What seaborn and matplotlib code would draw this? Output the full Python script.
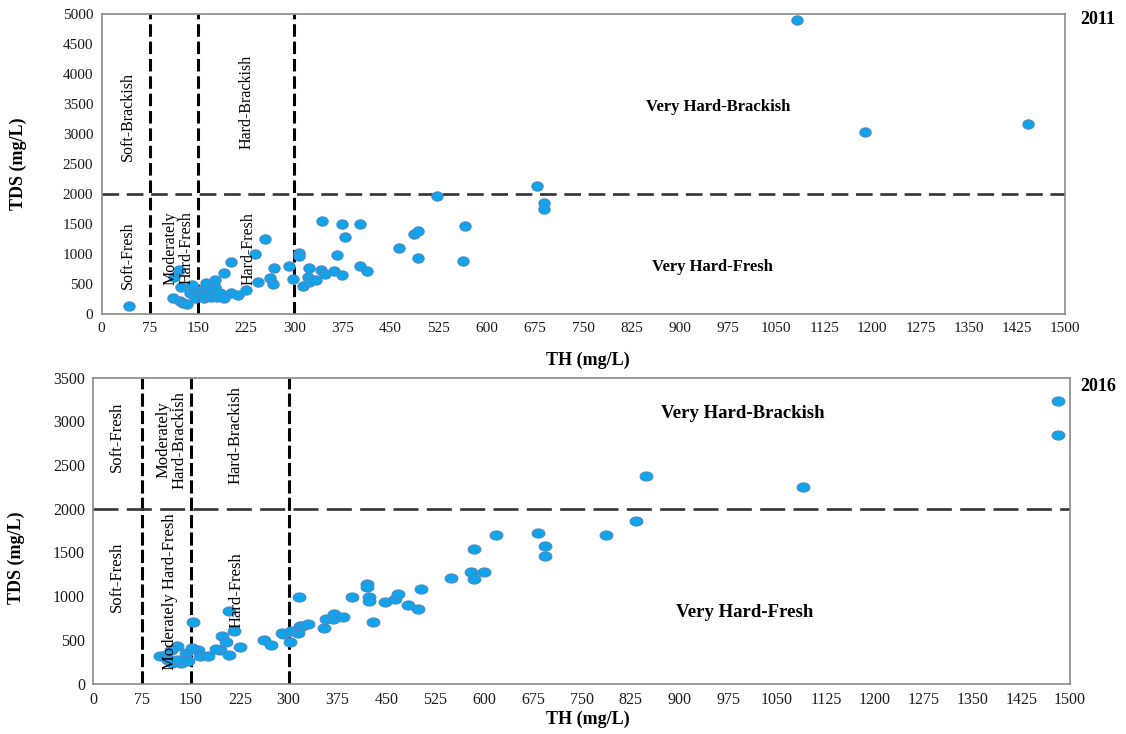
import numpy as np
import pandas as pd
import matplotlib
matplotlib.use("Agg")
import matplotlib.pyplot as plt
from matplotlib.path import Path
import seaborn as sns

# ---------------- data ----------------
th_2011 = [42, 111, 112, 121, 122, 124, 127, 133, 137, 140, 146, 153, 155, 160, 163, 163,
           170, 171, 176, 176, 179, 184, 191, 191, 202, 202, 213, 224, 238, 243, 254, 262,
           267, 268, 292, 298, 308, 308, 314, 322, 323, 323, 333, 343, 342, 347, 362, 367,
           374, 379, 374, 403, 403, 413, 463, 487, 493, 493, 522, 565, 563, 678, 688, 688,
           1083, 1188, 1443]
tds_2011 = [133, 262, 617, 733, 222, 450, 180, 167, 350, 483, 267, 400, 330, 267, 512, 317,
            420, 278, 450, 567, 290, 350, 678, 262, 867, 350, 317, 400, 1000, 540, 1250, 595,
            500, 765, 800, 590, 1022, 970, 467, 622, 762, 538, 567, 1555, 733, 662, 717, 983,
            1495, 1278, 650, 1495, 800, 717, 1095, 1333, 1388, 928, 1967, 1467, 883, 2139, 1845, 1750,
            4900, 3033, 3167]

th_2016 = [103, 111, 114, 121, 129, 119, 134, 142, 142, 146, 153, 160, 152, 164, 176, 195,
           188, 198, 203, 208, 209, 216, 225, 129, 262, 273, 291, 302, 290, 303, 314, 316,
           318, 321, 329, 354, 358, 368, 369, 384, 398, 420, 420, 424, 424, 429, 448, 464,
           468, 483, 498, 503, 549, 580, 585, 585, 600, 618, 683, 694, 694, 788, 834, 849,
           1090, 1481, 1481]
tds_2016 = [320, 331, 274, 236, 427, 389, 236, 350, 274, 255, 705, 389, 408, 312, 312, 389,
            397, 541, 476, 331, 834, 598, 415, 274, 503, 446, 571, 475, 579, 598, 579, 986,
            655, 655, 682, 636, 743, 743, 800, 762, 987, 1143, 1105, 987, 950, 701, 930, 971,
            1029, 903, 853, 1082, 1211, 1277, 1196, 1543, 1277, 1695, 1722, 1569, 1455, 1695, 1863, 2377,
            2251, 3234, 2846]

df11 = pd.DataFrame({"TH": th_2011, "TDS": tds_2011})
df16 = pd.DataFrame({"TH": th_2016, "TDS": tds_2016})

x_ticks = list(range(0, 1501, 75))
y_ticks_2011 = list(range(0, 5001, 500))
y_ticks_2016 = list(range(0, 3501, 500))
th_limits = [75, 150, 300]
tds_limit = 2000

# ---------------- style ----------------
sns.set_style("white")
plt.rcParams["font.family"] = ["Liberation Serif", "DejaVu Serif"]
plt.rcParams["lines.scale_dashes"] = False
plt.rcParams["text.color"] = "black"
plt.rcParams["axes.labelcolor"] = "black"

fill = "#10A4EA"
edge = "#4A88C8"

def ellipse(ratio):
    t = np.linspace(0, 2 * np.pi, 60)
    v = np.c_[ratio * np.cos(t), np.sin(t)]
    return Path(v, closed=True)

fig = plt.figure(figsize=(11.26, 7.34), dpi=100)
ax1 = fig.add_axes([0.0903, 0.5722, 0.8555, 0.4087])
ax2 = fig.add_axes([0.0829, 0.0688, 0.8674, 0.4166])

sns.scatterplot(data=df11, x="TH", y="TDS", ax=ax1, marker=ellipse(1.22), s=66,
                color=fill, edgecolor=edge, linewidth=0.8, zorder=3)
sns.scatterplot(data=df16, x="TH", y="TDS", ax=ax2, marker=ellipse(1.4), s=84,
                color=fill, edgecolor=edge, linewidth=0.8, zorder=3)

for ax, ymax, yt, tfs in [(ax1, 5000, y_ticks_2011, 11), (ax2, 3500, y_ticks_2016, 11.5)]:
    ax.set_xlim(0, 1500)
    ax.set_ylim(0, ymax)
    ax.set_xticks(x_ticks)
    ax.set_yticks(yt)
    ax.tick_params(direction="in", length=4, width=0.8, color="#555555",
                   labelsize=tfs, labelcolor="#1a1a1a", pad=6)
    for sp in ax.spines.values():
        sp.set_visible(True)
        sp.set_color("#8a8a8a")
        sp.set_linewidth(1.2)
    ax.set_xlabel("TH (mg/L)", fontsize=13, fontweight="bold", color="black")
    ax.set_ylabel("TDS (mg/L)", fontsize=13, fontweight="bold", color="black")

ax1.xaxis.set_label_coords(0.505, -0.125)
ax1.yaxis.set_label_coords(-0.078, 0.5)
ax2.xaxis.set_label_coords(0.506, -0.09)
ax2.yaxis.set_label_coords(-0.07, 0.41)

# dashed class boundaries
for xv in th_limits:
    ax1.axvline(xv, color="black", lw=2.2, dashes=(9, 3.5), zorder=2)
    ax2.axvline(xv, color="black", lw=2.2, dashes=(9.5, 3), zorder=2)
ax1.axhline(tds_limit, color="#333333", lw=1.9, dashes=(12, 5.5), zorder=2)
ax2.axhline(tds_limit, color="#333333", lw=1.9, dashes=(18, 6), zorder=2)

# region labels - 2011
vk = dict(rotation=90, ha="center", va="center", fontsize=11.5, multialignment="center",
          color="black")
ax1.text(41, 3300, "Soft-Brackish", **vk)
ax1.text(226, 3533, "Hard-Brackish", **vk)
ax1.text(41, 983, "Soft-Fresh", **vk)
ax1.text(120, 1100, "Moderately\nHard-Fresh", linespacing=1.0, **vk)
ax1.text(228, 1083, "Hard-Fresh", **vk)
ax1.text(960, 3450, "Very Hard-Brackish", ha="center", va="center", fontsize=12,
         fontweight="bold", color="black")
ax1.text(951, 783, "Very Hard-Fresh", ha="center", va="center", fontsize=12,
         fontweight="bold", color="black")

# region labels - 2016
vk2 = dict(rotation=90, ha="center", va="center", fontsize=12, multialignment="center",
           color="black")
ax2.text(36, 2820, "Soft-Fresh", **vk2)
ax2.text(120, 2786, "Moderately\nHard-Brackish", linespacing=1.0, **vk2)
ax2.text(218, 2843, "Hard-Brackish", **vk2)
ax2.text(36, 1218, "Soft-Fresh", **vk2)
ax2.text(118, 1047, "Moderately Hard-Fresh", **vk2)
ax2.text(220, 1070, "Hard-Fresh", **vk2)
ax2.text(998, 3095, "Very Hard-Brackish", ha="center", va="center", fontsize=13.5,
         fontweight="bold", color="black")
ax2.text(1001, 807, "Very Hard-Fresh", ha="center", va="center", fontsize=13.5,
         fontweight="bold", color="black")

fig.text(0.975, 0.973, "2011", ha="center", va="center", fontsize=13, fontweight="bold",
         color="black")
fig.text(0.975, 0.474, "2016", ha="center", va="center", fontsize=13, fontweight="bold",
         color="black")

fig.savefig("out.png", dpi=100, facecolor="white")
